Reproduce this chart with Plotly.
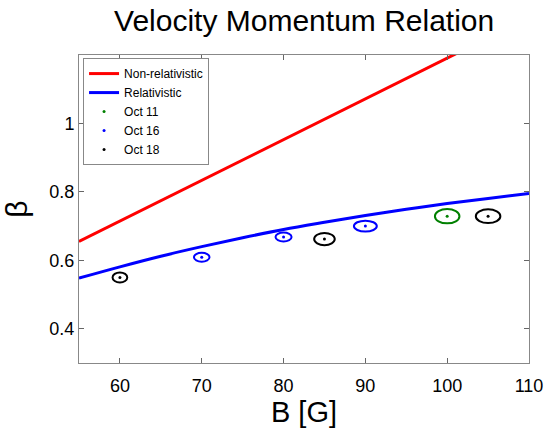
import plotly.graph_objects as go

# Theory curves
nonrel_B = [55, 110]
nonrel_beta = [0.655, 1.31]

rel_B = [55, 60, 65, 70, 75, 80, 85, 90, 95, 100, 105, 110]
rel_beta = [0.548, 0.581, 0.612, 0.640, 0.666, 0.690, 0.711, 0.731, 0.749, 0.766, 0.781, 0.795]

# Measurements
oct11_B = [100]
oct11_beta = [0.729]
oct11_xerr = [1.5]
oct11_yerr = [0.021]

oct16_B = [70, 80, 90]
oct16_beta = [0.609, 0.668, 0.700]
oct16_xerr = [0.95, 0.98, 1.4]
oct16_yerr = [0.013, 0.013, 0.016]

oct18_B = [60, 85, 105]
oct18_beta = [0.550, 0.662, 0.729]
oct18_xerr = [0.9, 1.26, 1.5]
oct18_yerr = [0.0147, 0.018, 0.020]

x_ticks = [60, 70, 80, 90, 100, 110]
y_ticks = [0.4, 0.6, 0.8, 1.0]
y_ticktext = ["0.4", "0.6", "0.8", "1"]

RED = "#ff0000"
BLUE = "#0000ff"
GREEN = "#008000"
BLACK = "#000000"

fig = go.Figure()
fig.add_trace(go.Scatter(x=nonrel_B, y=nonrel_beta, mode="lines", name="Non-relativistic",
                         line=dict(color=RED, width=3)))
fig.add_trace(go.Scatter(x=rel_B, y=rel_beta, mode="lines", name="Relativistic",
                         line=dict(color=BLUE, width=3, shape="spline")))

shapes = []
for name, xs, ys, xe, ye, col in [
    ("Oct 11", oct11_B, oct11_beta, oct11_xerr, oct11_yerr, GREEN),
    ("Oct 16", oct16_B, oct16_beta, oct16_xerr, oct16_yerr, BLUE),
    ("Oct 18", oct18_B, oct18_beta, oct18_xerr, oct18_yerr, BLACK),
]:
    fig.add_trace(go.Scatter(x=xs, y=ys, mode="markers", name=name,
                             marker=dict(color=col, size=3)))
    for x, y, dx, dy in zip(xs, ys, xe, ye):
        shapes.append(dict(type="circle", xref="x", yref="y",
                           x0=x - dx, x1=x + dx, y0=y - dy, y1=y + dy,
                           line=dict(color=col, width=2)))

fig.update_layout(
    width=548, height=429, autosize=False,
    margin=dict(l=79, r=19, t=55, b=66),
    plot_bgcolor="white", paper_bgcolor="white",
    font=dict(family="Liberation Sans, Arial, sans-serif", color="black"),
    title=dict(text="Velocity Momentum Relation", x=0.555, xanchor="center",
               y=0.953, yanchor="middle", font=dict(size=30, color="black")),
    shapes=shapes,
    showlegend=True,
    legend=dict(x=0.009, y=0.99, xanchor="left", yanchor="top",
                bgcolor="white", bordercolor="#888888", borderwidth=1,
                font=dict(size=12, color="black"), tracegroupgap=0,
                itemwidth=30),
)
fig.update_xaxes(range=[55, 110], tickvals=x_ticks, ticks="inside", ticklen=5,
                 tickcolor="#666666", showline=True, linecolor="#888888", linewidth=1,
                 mirror="allticks", showgrid=False, zeroline=False, automargin=False,
                 ticklabeloverflow="allow",
                 tickfont=dict(size=18, color="black"), ticklabelstandoff=6,
                 title=dict(text="B [G]", font=dict(size=29, color="black"), standoff=6))
fig.update_yaxes(range=[0.3, 1.2], tickvals=y_ticks, ticktext=y_ticktext, ticks="inside",
                 ticklen=5, tickcolor="#666666", showline=True, linecolor="#888888",
                 linewidth=1, mirror="allticks", showgrid=False, zeroline=False,
                 automargin=False, tickfont=dict(size=18, color="black"),
                 title=dict(text="β", font=dict(size=30, color="black"), standoff=12))

fig.write_html("out.html")
